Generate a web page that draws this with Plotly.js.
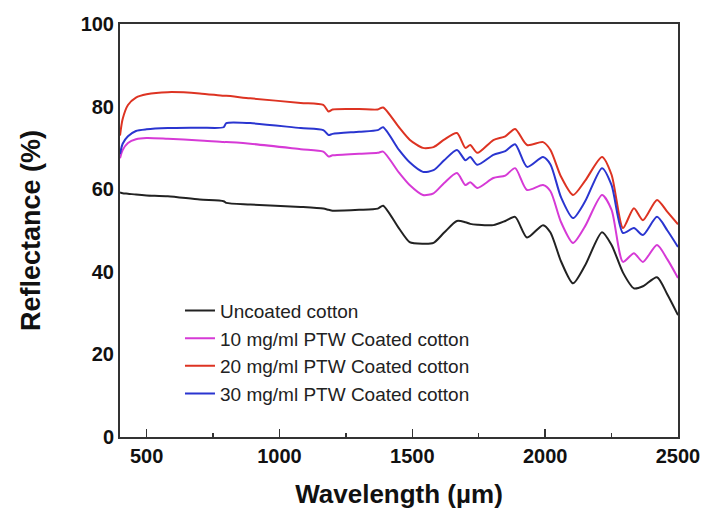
<!DOCTYPE html>
<html>
<head>
<meta charset="utf-8">
<script src="https://cdn.plot.ly/plotly-3.0.1.min.js"></script>
<style>html,body{margin:0;padding:0;background:#fff;}#chart{width:704px;height:514px;}</style>
</head>
<body>
<div id="chart"></div>
<script>
const wavelength = [400, 410, 430, 460, 500, 580, 700, 790, 800, 890, 1080, 1165, 1185, 1200, 1300, 1370, 1390, 1450, 1490, 1540, 1580, 1620, 1668, 1700, 1718, 1745, 1805, 1850, 1887, 1932, 1992, 2020, 2060, 2105, 2150, 2214, 2250, 2293, 2334, 2368, 2421, 2460, 2500];

const uncoated = [59.2, 59.0, 58.9, 58.7, 58.5, 58.3, 57.5, 57.1, 56.7, 56.3, 55.7, 55.3, 55.0, 54.8, 55.0, 55.3, 56.0, 50.5, 47.2, 46.8, 47.0, 49.5, 52.3, 52.0, 51.6, 51.4, 51.3, 52.3, 53.3, 48.3, 51.3, 49.5, 42.5, 37.2, 41.5, 49.6, 46.5, 39.8, 36.0, 36.5, 38.7, 34.5, 29.5];

const coated10 = [67.5, 69.5, 71.2, 72.1, 72.4, 72.2, 71.8, 71.4, 71.4, 71.0, 69.7, 69.1, 67.9, 68.2, 68.6, 68.8, 69.1, 64.0, 61.0, 58.6, 59.0, 61.5, 63.9, 61.0, 61.7, 60.3, 62.7, 63.3, 65.1, 59.8, 61.0, 59.5, 52.0, 47.0, 51.0, 58.6, 55.0, 42.4, 44.5, 42.4, 46.5, 43.0, 38.5];

const coated20 = [73.0, 77.0, 80.4, 82.2, 83.0, 83.5, 83.2, 82.6, 82.6, 82.0, 80.9, 80.4, 78.8, 79.3, 79.4, 79.3, 79.8, 75.0, 72.0, 70.0, 70.2, 72.0, 73.6, 70.0, 70.7, 68.8, 71.9, 72.8, 74.6, 70.7, 71.4, 69.5, 63.0, 58.6, 62.0, 67.8, 63.5, 50.6, 55.4, 52.5, 57.4, 54.5, 51.5];

const coated30 = [68.5, 71.0, 72.8, 74.1, 74.5, 74.8, 74.9, 75.0, 76.0, 76.0, 74.8, 74.3, 73.1, 73.4, 73.9, 74.3, 75.0, 69.5, 66.5, 64.2, 64.6, 67.0, 69.5, 67.0, 67.8, 65.9, 68.3, 69.2, 70.9, 65.4, 67.8, 66.0, 58.0, 53.0, 57.0, 65.1, 61.0, 49.4, 50.6, 48.9, 53.3, 50.0, 46.0];

const seriesNames = ["Uncoated cotton", "10 mg/ml PTW Coated cotton", "20 mg/ml PTW Coated cotton", "30 mg/ml PTW Coated cotton"];
const seriesValues = [uncoated, coated10, coated20, coated30];
const seriesColors = ["#222222", "#d63ad6", "#dd3322", "#2a35d0"];

const xTickVals = [500, 1000, 1500, 2000, 2500];
const yTickVals = [0, 20, 40, 60, 80, 100];

const traces = seriesNames.map((name, i) => ({
  x: wavelength,
  y: seriesValues[i],
  name: name,
  type: "scatter",
  mode: "lines",
  line: {color: seriesColors[i], width: 2, shape: "spline", smoothing: 0.7}
}));

const font = "Liberation Sans, Arial, sans-serif";

const layout = {
  width: 704, height: 514,
  margin: {l: 120, r: 26, t: 24, b: 77},
  paper_bgcolor: "#ffffff",
  plot_bgcolor: "#ffffff",
  showlegend: true,
  legend: {
    x: 0.1075, y: 0.352, xanchor: "left", yanchor: "top",
    bgcolor: "rgba(0,0,0,0)",
    font: {family: font, size: 19, color: "#222"},
    tracegroupgap: 0
  },
  xaxis: {
    range: [400, 2500],
    tickvals: xTickVals,
    ticktext: xTickVals.map(String),
    ticks: "inside", ticklen: 8, tickwidth: 1.5, tickcolor: "#333",
    minor: {tickvals: [750, 1250, 1750, 2250], ticks: "inside", ticklen: 4, tickwidth: 1.5, tickcolor: "#333"},
    showline: true, linecolor: "#333", linewidth: 2, mirror: true,
    showgrid: false, zeroline: false,
    tickfont: {family: font, size: 20, color: "#111", weight: "bold"},
    title: {text: "Wavelength (µm)", font: {family: font, size: 26, color: "#111", weight: "bold"}, standoff: 19},
    automargin: false
  },
  yaxis: {
    range: [0, 100],
    tickvals: yTickVals,
    ticktext: yTickVals.map(String),
    ticks: "",
    showline: true, linecolor: "#333", linewidth: 2, mirror: true,
    showgrid: false, zeroline: false,
    tickfont: {family: font, size: 20, color: "#111", weight: "bold"},
    title: {text: "Reflectance (%)", font: {family: font, size: 27, color: "#111", weight: "bold"}, standoff: 32},
    automargin: false
  }
};

Plotly.newPlot("chart", traces, layout, {displayModeBar: false, staticPlot: true});
</script>
</body>
</html>
